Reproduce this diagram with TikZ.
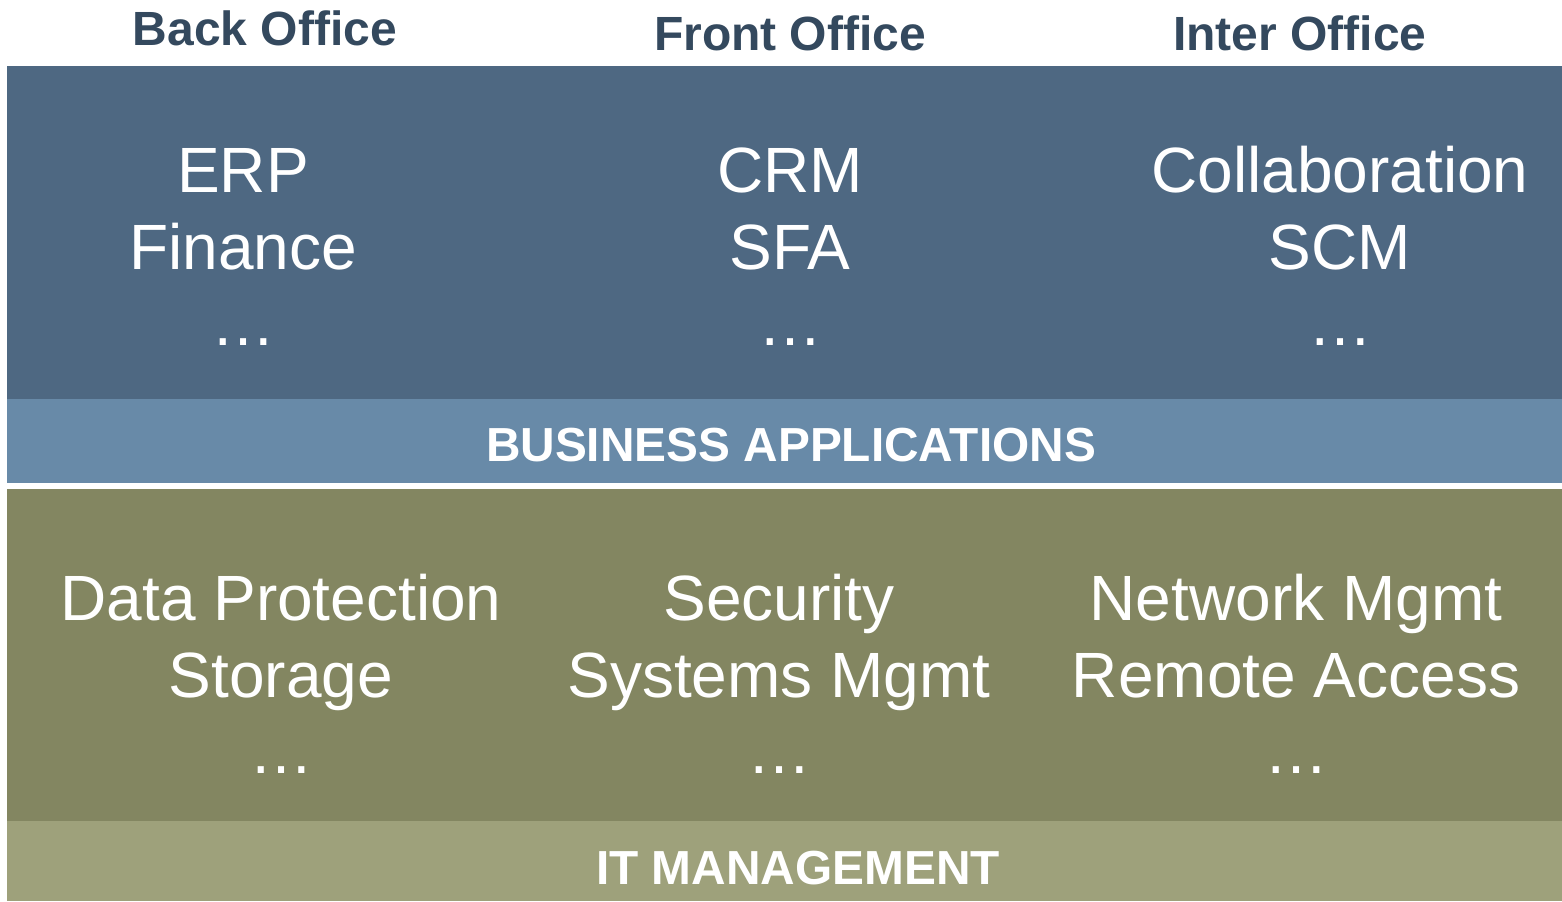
\documentclass[tikz,border=0pt]{standalone}
\usepackage{fontspec}
\setmainfont{Liberation Sans}
\definecolor{headblue}{HTML}{34495E}
\definecolor{appdark}{HTML}{4E6882}
\definecolor{applight}{HTML}{688AA8}
\definecolor{itdark}{HTML}{838661}
\definecolor{itlight}{HTML}{9EA17B}

\begin{document}
\begin{tikzpicture}[x=0.5pt,y=-0.5pt]

\tikzset{head/.style = {anchor=base,text=headblue,font=\fontsize{24}{28}\selectfont\bfseries}}
\tikzset{item/.style = {anchor=base,text=white,font=\fontsize{32}{38}\selectfont}}
\tikzset{band/.style = {anchor=base,text=white,font=\fontsize{23.9}{28}\selectfont\bfseries}}
\useasboundingbox (0,0) rectangle (1562,901);
%layers
\fill[appdark] (7,66) rectangle (1562,399);
\fill[applight] (7,399) rectangle (1562,483);
\fill[itdark] (7,489) rectangle (1562,821);
\fill[itlight] (7,821) rectangle (1562,901);
%headings
\node[head] (back) at (265,45) {Back Office};
\node[head] (front) at (790,50) {Front Office};
\node[head] (inter) at (1300,50) {Inter Office};
%business applications
\node[item] (erp) at (243,192) {ERP};
\node[item] (fin) at (243,269) {Finance};
\node[item] (bdots) at (243,345) {\dots};
\node[item] (crm) at (790,192) {CRM};
\node[item] (sfa) at (790,269) {SFA};
\node[item] (fdots) at (790,345) {\dots};
\node[item] (collab) at (1340,192) {Collaboration};
\node[item] (scm) at (1340,269) {SCM};
\node[item] (idots) at (1340,345) {\dots};
\node[band] (apps) at (791,461) {BUSINESS APPLICATIONS};
%it management
\node[item] (prot) at (281,620) {Data Protection};
\node[item] (stor) at (281,697) {Storage};
\node[item] (pdots) at (281,773) {\dots};
\node[item] (sec) at (779,620) {Security};
\node[item] (sys) at (779,697) {Systems Mgmt};
\node[item] (sdots) at (779,773) {\dots};
\node[item] (net) at (1296,620) {Network Mgmt};
\node[item] (rem) at (1296,697) {Remote Access};
\node[item] (ndots) at (1296,773) {\dots};
\node[band] (itm) at (798,884) {IT MANAGEMENT};

\end{tikzpicture}
\end{document}
